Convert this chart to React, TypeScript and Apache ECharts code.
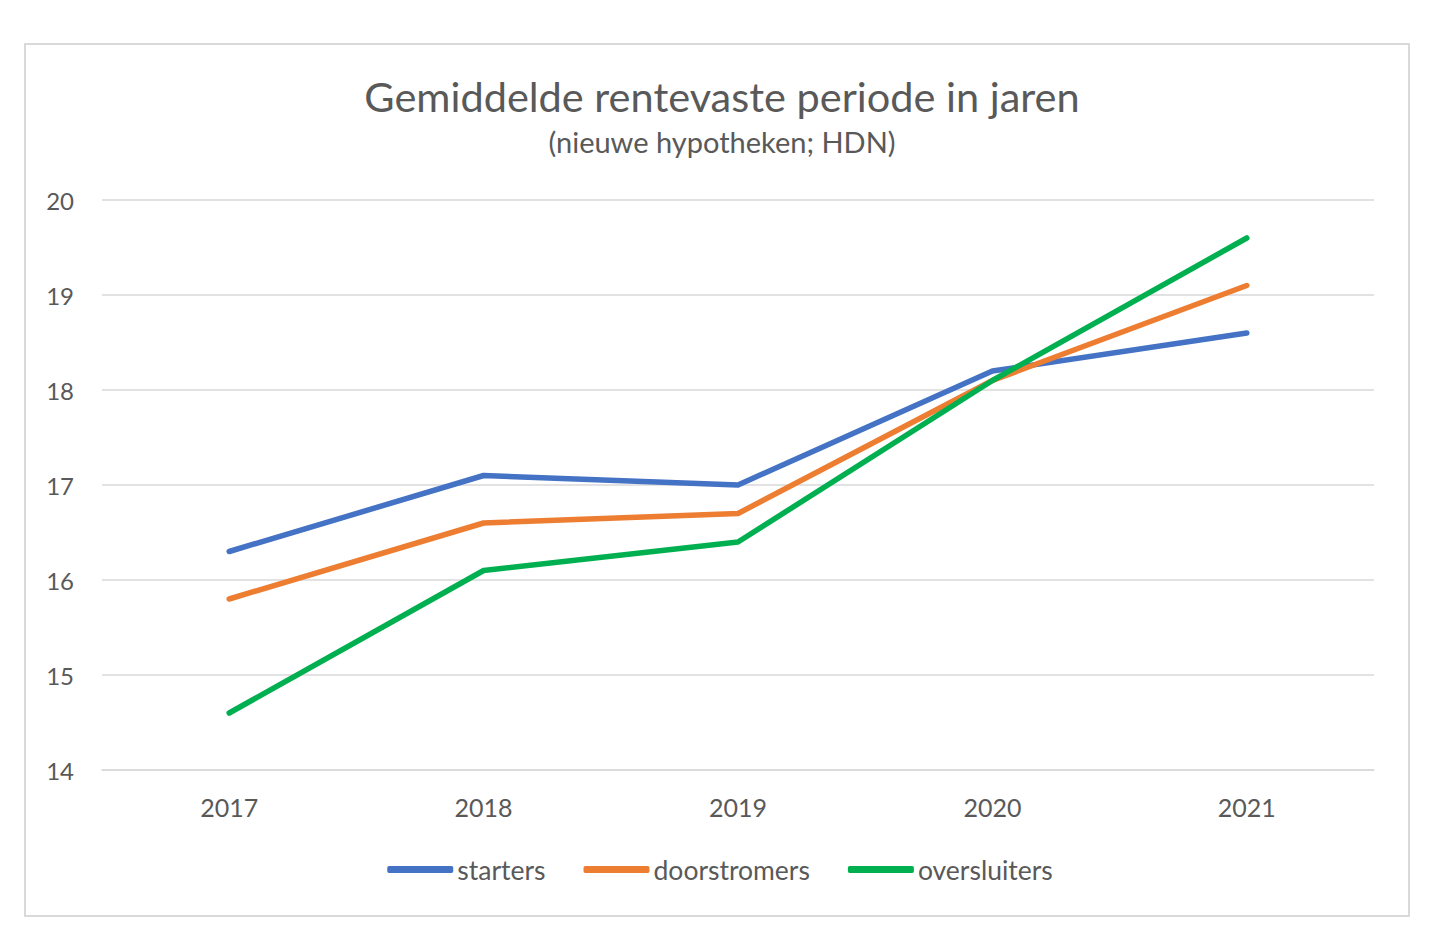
import React, { useEffect, useRef } from "react";
import * as echarts from "echarts";

const categories = ["2017", "2018", "2019", "2020", "2021"];
const starters = [16.3, 17.1, 17.0, 18.2, 18.6];
const doorstromers = [15.8, 16.6, 16.7, 18.1, 19.1];
const oversluiters = [14.6, 16.1, 16.4, 18.1, 19.6];
const seriesNames = ["starters", "doorstromers", "oversluiters"];
const colors = ["#4472C4", "#ED7D31", "#00B050"];

const FONT = "Lato, 'Open Sans', sans-serif";

export default function App() {
  const ref = useRef<HTMLDivElement>(null);
  useEffect(() => {
    if (!ref.current) return;
    const chart = echarts.init(ref.current, undefined, { renderer: "svg" });
    const data = [starters, doorstromers, oversluiters];
    chart.setOption({
      animation: false,
      backgroundColor: "#ffffff",
      title: {
        text: "Gemiddelde rentevaste periode in jaren",
        subtext: "(nieuwe hypotheken; HDN)",
        left: 709,
        textAlign: "center",
        top: 62,
        itemGap: 10,
        textStyle: { fontFamily: FONT, fontSize: 41.5, fontWeight: "normal", color: "#595959" },
        subtextStyle: { fontFamily: FONT, fontSize: 29, color: "#595959" },
      },
      graphic: [
        {
          type: "rect",
          shape: { x: 17, y: 36, width: 1384, height: 872 },
          style: { fill: "none", stroke: "#D9D9D9", lineWidth: 2 },
          silent: true,
          z: -1,
        },
      ],
      legend: {
        data: seriesNames,
        bottom: 54,
        left: "center",
        icon: "roundRect",
        itemWidth: 66,
        itemHeight: 7,
        itemGap: 38,
        textStyle: { fontFamily: FONT, fontSize: 26.5, color: "#595959", padding: [0, 0, 0, -1] },
      },
      grid: { left: 94, right: 58, top: 192, bottom: 172, containLabel: false },
      xAxis: {
        type: "category",
        data: categories,
        boundaryGap: true,
        axisLine: { show: true, lineStyle: { color: "#D9D9D9", width: 1.5 } },
        axisTick: { show: false },
        axisLabel: { fontFamily: FONT, fontSize: 25, color: "#595959", margin: 24 },
      },
      yAxis: {
        type: "value",
        min: 14,
        max: 20,
        interval: 1,
        axisLine: { show: false },
        axisTick: { show: false },
        axisLabel: { fontFamily: FONT, fontSize: 24, color: "#595959", margin: 28 },
        splitLine: { lineStyle: { color: "#D9D9D9", width: 1.5 } },
      },
      series: seriesNames.map((name, i) => ({
        name,
        type: "line",
        data: data[i],
        symbol: "none",
        lineStyle: { color: colors[i], width: 5.5, cap: "round", join: "round" },
        itemStyle: { color: colors[i] },
      })),
    });
    return () => chart.dispose();
  }, []);
  return <div ref={ref} style={{ width: 1424, height: 934 }} />;
}
